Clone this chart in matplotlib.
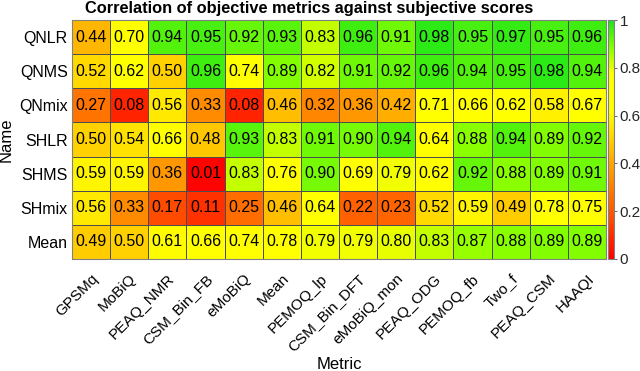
import numpy as np
import matplotlib
matplotlib.use("Agg")
import matplotlib.pyplot as plt
import matplotlib.transforms as mtransforms
from matplotlib.colors import LinearSegmentedColormap

plt.rcParams['font.family'] = ['Liberation Sans', 'DejaVu Sans']

metrics = ["GPSMq", "MoBiQ", "PEAQ_NMR", "CSM_Bin_FB", "eMoBiQ", "Mean",
           "PEMOQ_lp", "CSM_Bin_DFT", "eMoBiQ_mon", "PEAQ_ODG", "PEMOQ_fb",
           "Two_f", "PEAQ_CSM", "HAAQI"]
names = ["QNLR", "QNMS", "QNmix", "SHLR", "SHMS", "SHmix", "Mean"]

qnlr  = [0.44, 0.70, 0.94, 0.95, 0.92, 0.93, 0.83, 0.96, 0.91, 0.98, 0.95, 0.97, 0.95, 0.96]
qnms  = [0.52, 0.62, 0.50, 0.96, 0.74, 0.89, 0.82, 0.91, 0.92, 0.96, 0.94, 0.95, 0.98, 0.94]
qnmix = [0.27, 0.08, 0.56, 0.33, 0.08, 0.46, 0.32, 0.36, 0.42, 0.71, 0.66, 0.62, 0.58, 0.67]
shlr  = [0.50, 0.54, 0.66, 0.48, 0.93, 0.83, 0.91, 0.90, 0.94, 0.64, 0.88, 0.94, 0.89, 0.92]
shms  = [0.59, 0.59, 0.36, 0.01, 0.83, 0.76, 0.90, 0.69, 0.79, 0.62, 0.92, 0.88, 0.89, 0.91]
shmix = [0.56, 0.33, 0.17, 0.11, 0.25, 0.46, 0.64, 0.22, 0.23, 0.52, 0.59, 0.49, 0.78, 0.75]
mean  = [0.49, 0.50, 0.61, 0.66, 0.74, 0.78, 0.79, 0.79, 0.80, 0.83, 0.87, 0.88, 0.89, 0.89]

data = np.array([qnlr, qnms, qnmix, shlr, shms, shmix, mean])

cmap = LinearSegmentedColormap.from_list("ryg", [
    (0.0, (1.0, 0.0, 0.0)),
    (0.2, (1.0, 0.35, 0.0)),
    (0.4, (1.0, 0.65, 0.0)),
    (0.55, (1.0, 0.9, 0.0)),
    (0.62, (1.0, 1.0, 0.0)),
    (0.78, (1.0, 1.0, 0.0)),
    (0.88, (0.55, 1.0, 0.0)),
    (1.0, (0.1, 0.9, 0.1)),
])

W, H = 640, 371
fig = plt.figure(figsize=(6.4, 3.71), dpi=100)
ax = fig.add_axes([72/W, 1 - 259/H, (606-72)/W, (259-20)/H])
cax = fig.add_axes([608/W, 1 - 259/H, 6/W, (259-20)/H])

mesh = ax.pcolormesh(data, cmap=cmap, vmin=0, vmax=1,
                     edgecolors=(0.3, 0.3, 0.3), linewidth=0.5)
ax.set_xlim(0, len(metrics))
ax.set_ylim(len(names), 0)
for i in range(data.shape[0]):
    for j in range(data.shape[1]):
        ax.text(j + 0.5, i + 0.5, "%.2f" % data[i, j], ha='center', va='center',
                fontsize=11.5)

ax.set_xticks(np.arange(len(metrics)) + 0.5)
ax.set_xticklabels(metrics, rotation=45, ha='right', va='top',
                   rotation_mode='anchor', fontsize=11)
shift = mtransforms.ScaledTranslation(8/72, 0, fig.dpi_scale_trans)
for lab in ax.get_xticklabels():
    lab.set_transform(lab.get_transform() + shift)
ax.set_yticks(np.arange(len(names)) + 0.5)
ax.set_yticklabels(names, fontsize=11.5)
ax.tick_params(axis='x', length=0, pad=9)
ax.tick_params(axis='y', length=0, pad=3)
for s in ax.spines.values():
    s.set_color((0.5, 0.5, 0.5))
ax.set_xlabel("Metric", fontsize=12, labelpad=2)
ax.set_ylabel("Name", fontsize=12, labelpad=4)
fig.text(309/W, 1 - 9/H, "Correlation of objective metrics against subjective scores",
         fontsize=11.8, fontweight='bold', ha='center', va='center')

cb = fig.colorbar(mesh, cax=cax, ticks=[0, 0.2, 0.4, 0.6, 0.8, 1])
cb.ax.set_yticklabels(["0", "0.2", "0.4", "0.6", "0.8", "1"])
cb.ax.tick_params(labelsize=11, length=2, width=0.5, pad=2, colors=(0.15, 0.15, 0.15))
cb.outline.set_edgecolor((0.5, 0.5, 0.5))

fig.savefig("out.png", dpi=100)
